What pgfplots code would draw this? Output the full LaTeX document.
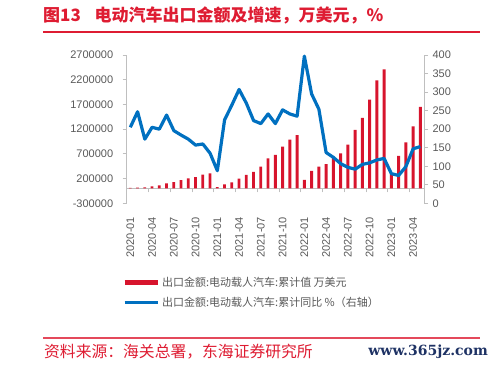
\documentclass[border=0pt]{standalone}
\usepackage{pgfplots}
\usepackage{pgfplotstable}
\pgfplotsset{compat=1.18}
\usepackage{fontspec}
\setmainfont{Liberation Sans}
\newfontfamily\cjk{Noto Sans CJK SC}
\newfontfamily\wm{DejaVu Serif}
\definecolor{barred}{RGB}{215,20,45}
\definecolor{lineblue}{RGB}{0,112,192}
\definecolor{titlered}{RGB}{222,28,50}
\definecolor{labgray}{RGB}{89,89,89}
\definecolor{axgray}{RGB}{191,191,191}
\definecolor{navy}{RGB}{30,50,100}

\pgfplotstableread{
idx month val yoy
0 2020-01 10000 205
1 2020-02 15000 247
2 2020-03 20000 173
3 2020-04 40000 205
4 2020-05 65000 200
5 2020-06 105000 238
6 2020-07 130000 196
7 2020-08 170000 184
8 2020-09 205000 173
9 2020-10 232000 157
10 2020-11 279000 160
11 2020-12 307000 135
12 2021-01 25000 88
13 2021-02 85000 225
14 2021-03 125000 265
15 2021-04 198000 307
16 2021-05 273000 270
17 2021-06 334000 223
18 2021-07 441000 215
19 2021-08 607000 241
20 2021-09 678000 215
21 2021-10 846000 252
22 2021-11 990000 241
23 2021-12 1080000 235
24 2022-01 172000 397
25 2022-02 357000 295
26 2022-03 441000 254
27 2022-04 492000 137
28 2022-05 623000 124
29 2022-06 712000 107
30 2022-07 886000 97
31 2022-08 1183000 92
32 2022-09 1426000 105
33 2022-10 1796000 109
34 2022-11 2188000 117
35 2022-12 2411000 121
36 2023-01 310000 80
37 2023-02 657000 75
38 2023-03 935000 99
39 2023-04 1258000 147
40 2023-05 1652000 153
}\datatable

\begin{document}
\begin{tikzpicture}[x=1pt,y=1pt]
\path[use as bounding box] (0,0) rectangle (493,365);
\node[anchor=west, text=titlered, font=\cjk\bfseries\fontsize{17}{19}\selectfont, inner sep=0pt] at (43,350) {图13\hspace{0.8em}电动汽车出口金额及增速，万美元，\%};
\draw[titlered, line width=1.3pt] (43,333) -- (480,333);

\begin{axis}[
  at={(126.7pt,161.7pt)}, anchor=south west, scale only axis,
  width=297.3pt, height=148.3pt,
  xmin=-0.5, xmax=40.5, ymin=-300000, ymax=2700000,
  axis y line*=left, axis x line*=middle,
  axis line style={draw=axgray, line width=0.8pt, -},
  xtick={0,3,...,39},
  xticklabels={2020-01,2020-04,2020-07,2020-10,2021-01,2021-04,2021-07,2021-10,2022-01,2022-04,2022-07,2022-10,2023-01,2023-04},
  xtick style={draw=none},
  xticklabel style={yshift=-21pt, rotate=90, anchor=east, font=\fontsize{11}{13}\selectfont, text=labgray},
  extra x ticks={-0.5,2.5,...,38.5},
  extra x tick labels={},
  extra x tick style={xtick style={draw=axgray, line width=0.8pt}},
  ytick={-300000,200000,...,2700000},
  scaled y ticks=false,
  yticklabel style={/pgf/number format/fixed, /pgf/number format/1000 sep={}, /pgf/number format/assume math mode=true, font=\fontsize{11}{13}\selectfont, text=labgray, xshift=-6pt},
  ytick style={draw=axgray, line width=0.8pt},
  major tick length=4pt, tick align=outside,
  clip=false,
]
\addplot[ybar, bar width=2.8pt, fill=barred, draw=none] table[x=idx, y=val] {\datatable};
\end{axis}

\begin{axis}[
  at={(126.7pt,161.7pt)}, anchor=south west, scale only axis,
  width=297.3pt, height=148.3pt,
  xmin=-0.5, xmax=40.5, ymin=0, ymax=400,
  axis y line*=right, axis x line=none,
  axis line style={draw=axgray, line width=0.8pt, -},
  ytick={0,50,...,400},
  yticklabel style={/pgf/number format/assume math mode=true, font=\fontsize{11}{13}\selectfont, text=labgray, xshift=1pt},
  ytick style={draw=axgray, line width=0.8pt},
  major tick length=4pt, tick align=outside,
  clip=false,
  legend style={at={(-0.016,-0.484)}, anchor=north west, draw=none, fill=none, inner sep=0pt,
    font=\cjk\fontsize{11}{13}\selectfont, text=labgray, row sep=5pt,
    /tikz/every even column/.append style={column sep=2pt}},
  legend cell align=left,
]
\addlegendimage{legend image code/.code={\draw[barred, line width=5pt] (0pt,0pt) -- (33pt,0pt);}}
\addlegendentry{出口金额:电动载人汽车:累计值 万美元}
\addplot[lineblue, line width=3.2pt, no marks, line join=round,
  legend image code/.code={\draw[lineblue, line width=3pt] (0pt,0pt) -- (33pt,0pt);}]
  table[x=idx, y=yoy] {\datatable};
\addlegendentry{出口金额:电动载人汽车:累计同比 \%（右轴）}
\end{axis}

\draw[titlered!80, line width=1.2pt] (43,27) -- (480,27);
\node[anchor=west, text=titlered, font=\cjk\fontsize{15.8}{18}\selectfont, inner sep=0pt] at (44,13) {资料来源：海关总署，东海证券研究所};
\node[anchor=east, text=navy, font=\wm\bfseries\fontsize{14}{17}\selectfont, inner sep=0pt] at (488,13) {www.365jz.com};
\end{tikzpicture}
\end{document}
